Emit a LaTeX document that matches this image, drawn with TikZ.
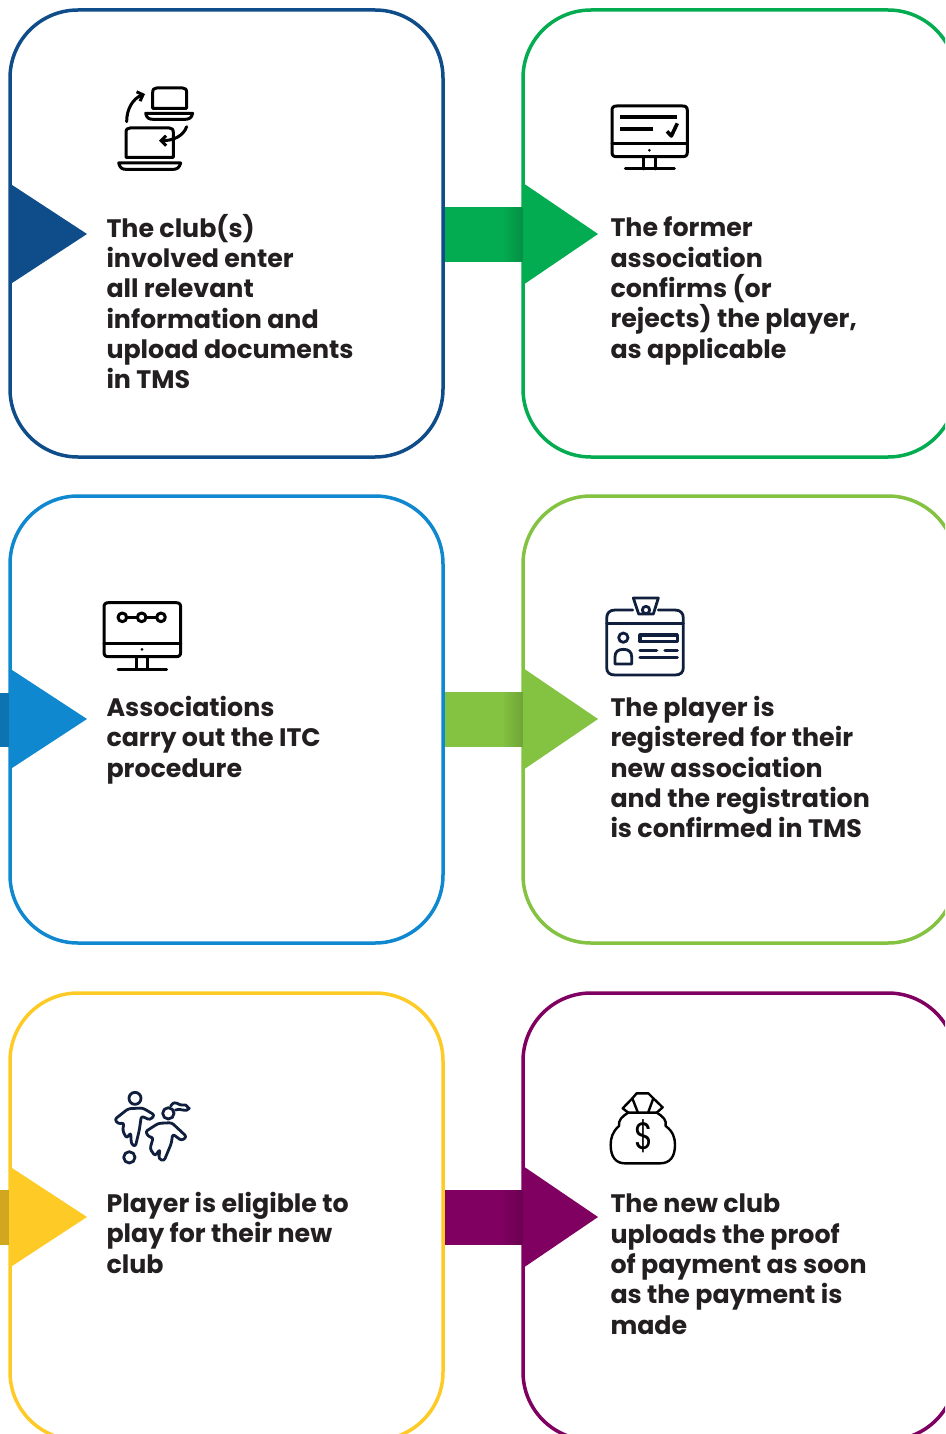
\documentclass[tikz,border=0pt]{standalone}
\usetikzlibrary{arrows.meta}
\usepackage{fontspec}
\setmainfont{Poppins}
\begin{document}
\begin{tikzpicture}[x=1pt,y=-1pt,line join=round]
\definecolor{cA}{HTML}{0F4C8A}
\definecolor{cB}{HTML}{03AC50}
\definecolor{cC}{HTML}{1088D0}
\definecolor{cD}{HTML}{84C341}
\definecolor{cE}{HTML}{FECB26}
\definecolor{cF}{HTML}{7F0060}
\definecolor{ink}{HTML}{231F20}
\definecolor{navy}{HTML}{0F1F3D}
\tikzset{
 card/.style={draw=#1,line width=3.5pt,fill=white,rounded corners=68pt,minimum width=433pt,minimum height=447pt,inner sep=0pt,outer sep=0pt,anchor=north west},
 label/.style={anchor=north west,align=left,inner sep=0pt,outer sep=0pt,text=ink,font=\fontsize{25.3}{30.37}\selectfont\bfseries},
 zoomed/.style={x=1pt/3,y=-1pt/3},
 ic/.style={draw=black,line width=3pt,line cap=round},
 icn/.style={draw=navy,line width=2.8pt,line cap=round},
}
\useasboundingbox (0,0) rectangle (945,1434);
\clip (0,0) rectangle (945,1434);
\fill[white] (0,0) rectangle (945,1434);
% cards
\node[card=cA] (c1) at (10,10) {};
\node[card=cB] (c2) at (523,10) {};
\node[card=cC] (c3) at (10,496) {};
\node[card=cD] (c4) at (523,496) {};
\node[card=cE] (c5) at (10,993) {};
\node[card=cF] (c6) at (523,993) {};
% connectors
\foreach \yy/\col in {207/cB,692/cD,1190/cF}{
  \fill[\col] (445,\yy) rectangle (503,\yy+55);
  \foreach \i in {0,...,21}{
    \pgfmathtruncatemacro{\pct}{100-0.75*\i}
    \fill[\col!\pct!black] (502+\i,\yy) rectangle (525,\yy+55);
  }
}
\fill[cC!85!black] (0,693) rectangle (11,747);
\fill[cE!82!black] (0,1190) rectangle (11,1245);
% triangles
\foreach \xx/\yy/\col in {9/234/cA,523/234/cB,9/719/cC,523/719/cD,9/1217/cE,523/1217/cF}{
  \fill[\col] (\xx,\yy-51) -- ({\xx<100 ? 87 : 598},\yy) -- (\xx,\yy+51) -- cycle;
}
% labels
\node[label] (t1) at (106.5,214) {The club(s)\\involved enter\\all relevant\\information and\\upload documents\\in TMS};
\node[label] (t2) at (610.5,217) {The former\\association\\confirms (or\\rejects) the player,\\as applicable};
\node[label] (t3) at (106.5,696) {Associations\\carry out the ITC\\procedure};
\node[label] (t4) at (610.5,696) {The player is\\registered for their\\new association\\and the registration\\is confirmed in TMS};
\node[label] (t5) at (106.5,1192) {Player is eligible to\\play for their new\\club};
\node[label] (t6) at (610.5,1194) {The new club\\uploads the proof\\of payment as soon\\as the payment is\\made};
% icon 1: laptops
\begin{scope}[shift={(90,70)},zoomed]
 \draw[ic] (188,115) -- (188,68) .. controls (188,58) and (192,54) .. (200,54) -- (278,54) .. controls (286,54) and (290,58) .. (290,68) -- (290,115) -- cycle;
 \draw[ic] (167,130) -- (308,130) .. controls (305,145) and (295,148) .. (285,148) -- (190,148) .. controls (178,148) and (170,145) .. (167,130) -- cycle;
 \draw[ic,-{Straight Barb[length=5pt,width=10pt]}] (110,155) .. controls (110,115) and (130,85) .. (165,72);
 \draw[ic] (108,262) -- (108,188) .. controls (108,178) and (112,174) .. (120,174) -- (238,174) .. controls (246,174) and (250,178) .. (250,188) -- (250,262) -- cycle;
 \draw[ic] (86,279) -- (272,279) .. controls (268,294) and (260,298) .. (250,298) -- (108,298) .. controls (96,298) and (90,294) .. (86,279) -- cycle;
 \draw[ic,-{Straight Barb[length=5pt,width=10pt]}] (290,170) .. controls (280,198) and (250,212) .. (207,212);
\end{scope}
% icon 2: monitor with check
\begin{scope}[shift={(590,90)},zoomed]
 \draw[ic] (80,48) -- (278,48) .. controls (288,48) and (292,52) .. (292,62) -- (292,186) .. controls (292,196) and (288,200) .. (278,200) -- (80,200) .. controls (70,200) and (66,196) .. (66,186) -- (66,62) .. controls (66,52) and (70,48) .. (80,48) -- cycle;
 \draw[ic] (66,162) -- (292,162);
 \fill (178,181) circle[radius=4.5];
 \draw[black,line width=4pt] (90,81) -- (260,81);
 \draw[black,line width=4pt] (90,117) -- (190,117);
 \draw[black,line width=3.6pt] (231,124) -- (244,138) -- (262,100);
 \draw[ic] (161,200) -- (161,237) (195,200) -- (195,237);
 \draw[ic] (106,237) -- (253,237);
\end{scope}
% icon 3: monitor with nodes
\begin{scope}[shift={(90,590)},zoomed]
 \draw[ic] (56,38) -- (258,38) .. controls (268,38) and (272,42) .. (272,52) -- (272,186) .. controls (272,196) and (268,200) .. (258,200) -- (56,200) .. controls (46,200) and (42,196) .. (42,186) -- (42,52) .. controls (42,42) and (46,38) .. (56,38) -- cycle;
 \draw[ic] (42,160) -- (272,160);
 \fill (156,178) circle[radius=4.5];
 \draw[ic] (97,82) circle[radius=13];
 \draw[ic] (155,82) circle[radius=13];
 \draw[ic] (213,82) circle[radius=13];
 \draw[ic] (110,82) -- (142,82) (168,82) -- (200,82);
 \draw[ic] (140,200) -- (140,237) (172,200) -- (172,237);
 \draw[ic] (84,237) -- (230,237);
\end{scope}
% icon 4: badge
\begin{scope}[shift={(590,590)},zoomed]
 \draw[icn] (128,60) -- (75,60) .. controls (58,60) and (50,70) .. (50,85) -- (50,232) .. controls (50,247) and (58,255) .. (75,255) -- (255,255) .. controls (272,255) and (280,247) .. (280,232) -- (280,85) .. controls (280,70) and (272,60) .. (255,60) -- (205,60);
 \draw[icn] (50,100) -- (280,100);
 \draw[icn] (130,24) -- (205,24) -- (190,72) -- (146,72) -- cycle;
 \draw[icn] (168,60) circle[radius=11];
 \draw[icn] (100,143) circle[radius=14];
 \draw[icn] (75,222) -- (75,200) .. controls (75,185) and (85,178) .. (100,178) .. controls (115,178) and (125,185) .. (125,200) -- (125,222) -- cycle;
 \draw[icn,line width=3.2pt] (150,135) rectangle (262,155);
 \draw[icn,line width=3.2pt] (150,182) -- (200,182) (225,182) -- (262,182) (150,203) -- (262,203);
\end{scope}
% icon 5: players
\begin{scope}[shift={(100,1080)},zoomed]
 \draw[icn] (105,55) circle[radius=18];
 \draw[icn,rounded corners=2.5pt] (44,118) -- (85,86) -- (128,84) -- (164,105) -- (150,120) -- (124,108) -- (118,150) -- (106,200) -- (94,192) -- (92,158) -- (80,175) -- (68,152) -- (72,128) -- (55,132) -- cycle;
 \draw[icn] (88,232) circle[radius=17];
 \draw[icn] (205,100) circle[radius=17];
 \draw[icn] (212,78) .. controls (228,55) and (235,80) .. (250,75) .. controls (262,72) and (262,85) .. (268,85) .. controls (258,100) and (240,82) .. (226,90);
 \draw[icn,rounded corners=2.5pt] (136,155) -- (175,130) -- (215,128) -- (260,170) -- (245,182) -- (218,162) -- (214,190) -- (192,243) -- (176,236) -- (180,208) -- (165,228) -- (150,206) -- (160,172) -- (148,172) -- cycle;
\end{scope}
% icon 6: money bag
\begin{scope}[shift={(595,1080)},zoomed]
 \draw[ic,line width=2.4pt] (100,98) -- (185,98) .. controls (205,110) and (215,120) .. (212,138) .. controls (235,155) and (240,175) .. (240,195) .. controls (240,230) and (225,250) .. (195,250) -- (90,250) .. controls (62,250) and (47,230) .. (47,195) .. controls (47,175) and (52,155) .. (72,138) .. controls (70,120) and (80,110) .. (100,98) -- cycle;
 \draw[ic,line width=2.4pt] (128,96) -- (112,55) -- (125,40) -- (160,40) -- (175,55) -- (160,96);
 \draw[ic,line width=2.4pt] (112,55) -- (83,85) -- (100,98) (175,55) -- (203,82) -- (185,98);
 \node[inner sep=0pt,font=\fontsize{38}{38}\selectfont,xscale=0.8] (dollar) at (146,168) {\$};
\end{scope}
\end{tikzpicture}
\end{document}
